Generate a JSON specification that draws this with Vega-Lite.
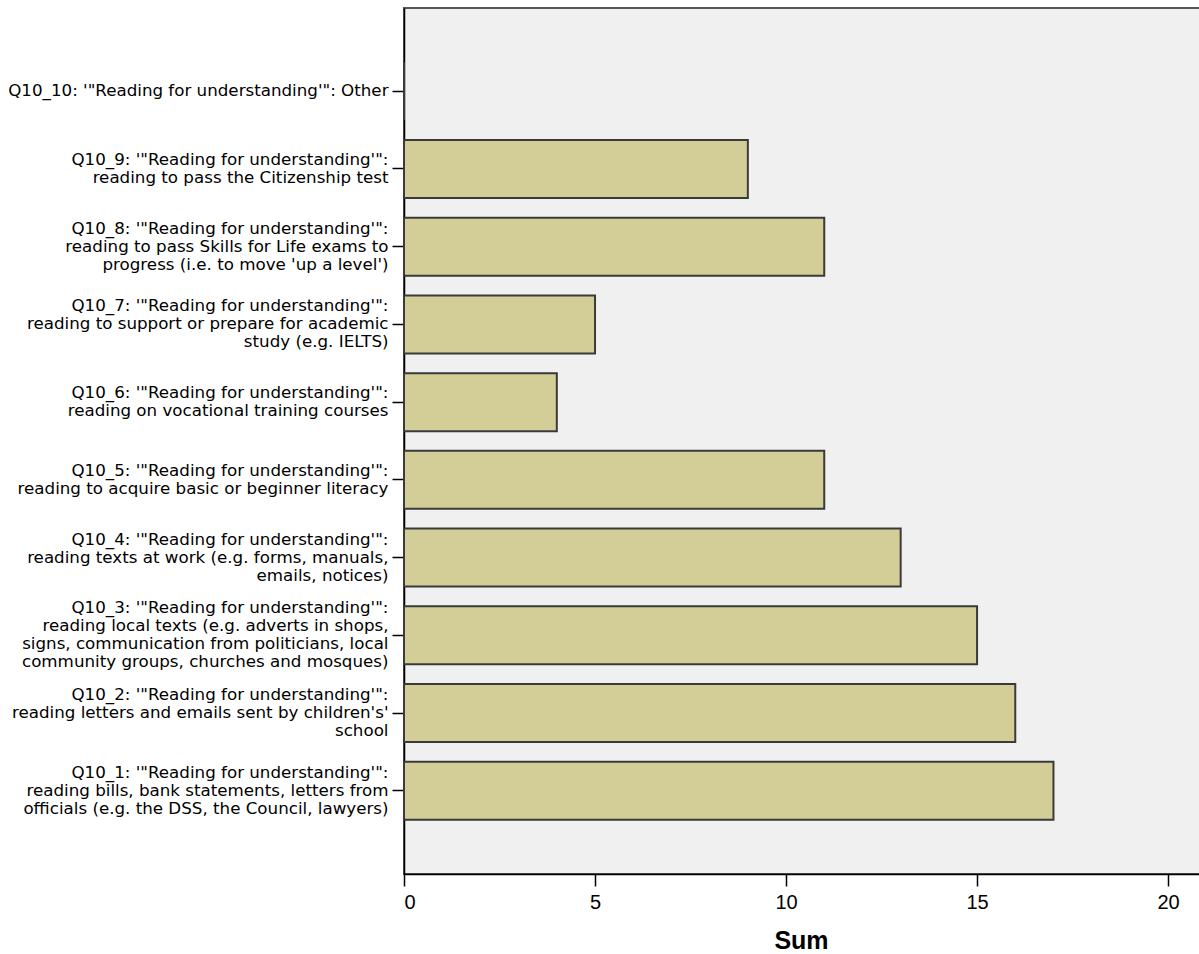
{
  "$schema": "https://vega.github.io/schema/vega-lite/v6.json",
  "width": 800,
  "height": 866,
  "autosize": "none",
  "padding": {"left": 404, "top": 8, "right": 0, "bottom": 80},
  "background": "white",
  "config": {
    "view": {"fill": "#f0f0f0", "stroke": "#555555", "strokeWidth": 2},
    "font": "DejaVu Sans"
  },
  "data": {
    "values": [
      {"item": "Q10_10", "label": "Q10_10: '\"Reading for understanding'\": Other", "sum": 0},
      {"item": "Q10_9", "label": "Q10_9: '\"Reading for understanding'\":|reading to pass the Citizenship test", "sum": 9},
      {"item": "Q10_8", "label": "Q10_8: '\"Reading for understanding'\":|reading to pass Skills for Life exams to|progress (i.e. to move 'up a level')", "sum": 11},
      {"item": "Q10_7", "label": "Q10_7: '\"Reading for understanding'\":|reading to support or prepare for academic|study (e.g. IELTS)", "sum": 5},
      {"item": "Q10_6", "label": "Q10_6: '\"Reading for understanding'\":|reading on vocational training courses", "sum": 4},
      {"item": "Q10_5", "label": "Q10_5: '\"Reading for understanding'\":|reading to acquire basic or beginner literacy", "sum": 11},
      {"item": "Q10_4", "label": "Q10_4: '\"Reading for understanding'\":|reading texts at work (e.g. forms, manuals,|emails, notices)", "sum": 13},
      {"item": "Q10_3", "label": "Q10_3: '\"Reading for understanding'\":|reading local texts (e.g. adverts in shops,|signs, communication from politicians, local|community groups, churches and mosques)", "sum": 15},
      {"item": "Q10_2", "label": "Q10_2: '\"Reading for understanding'\":|reading letters and emails sent by children's'|school", "sum": 16},
      {"item": "Q10_1", "label": "Q10_1: '\"Reading for understanding'\":|reading bills, bank statements, letters from|officials (e.g. the DSS, the Council, lawyers)", "sum": 17}
    ]
  },
  "mark": {"type": "bar", "fill": "#d3ce98", "stroke": "#3a3a3a", "strokeWidth": 2},
  "encoding": {
    "y": {
      "field": "label",
      "type": "nominal",
      "sort": null,
      "scale": {"paddingInner": 0.254, "paddingOuter": 0.698, "align": 0.5},
      "axis": {
        "title": null,
        "labelExpr": "split(datum.label, '|')",
        "labelFont": "DejaVu Sans",
        "labelFontSize": 16.7,
        "labelLineHeight": 18,
        "labelColor": "#000000",
        "labelLimit": 420,
        "labelPadding": 4,
        "labelOffset": {
          "condition": [
            {"test": "length(split(datum.value, '|')) == 4", "value": -27},
            {"test": "length(split(datum.value, '|')) == 3", "value": -18},
            {"test": "length(split(datum.value, '|')) == 2", "value": -9}
          ],
          "value": 0
        },
        "tickSize": 12,
        "tickColor": "#000000",
        "tickWidth": 1.5,
        "domainColor": "#000000",
        "domainWidth": 1.5
      }
    },
    "x": {
      "field": "sum",
      "type": "quantitative",
      "scale": {"domain": [0, 20.94], "nice": false, "zero": true},
      "axis": {
        "title": "Sum",
        "values": [0, 5, 10, 15, 20],
        "grid": false,
        "labelFont": "Liberation Sans",
        "labelFontSize": 20,
        "labelColor": "#000000",
        "labelPadding": 6,
        "tickSize": 12,
        "tickColor": "#000000",
        "tickWidth": 1.5,
        "domainColor": "#000000",
        "domainWidth": 1.5,
        "titleFont": "Liberation Sans",
        "titleFontSize": 25,
        "titleFontWeight": "bold",
        "titleColor": "#000000",
        "titleX": 397,
        "titleY": 74,
        "titleBaseline": "alphabetic",
        "titleAnchor": "middle"
      }
    }
  }
}
